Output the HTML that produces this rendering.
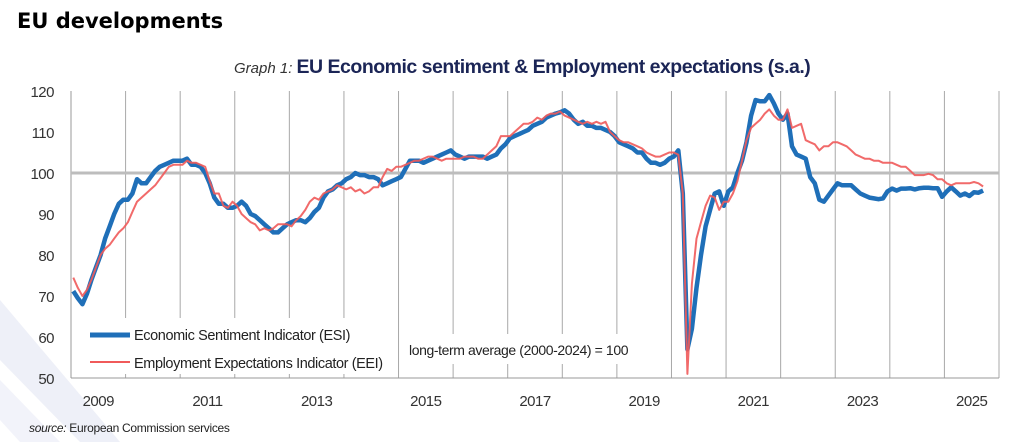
<!DOCTYPE html>
<html><head><meta charset="utf-8">
<style>
body{margin:0;background:#fff;}
#wrap{position:relative;width:1029px;height:442px;overflow:hidden;background:#fff;font-family:"Liberation Sans",sans-serif;}
</style></head>
<body>
<div id="wrap">
<svg id="chart" width="1029" height="442" xmlns="http://www.w3.org/2000/svg">
  <g>
    <polygon points="0,300 0,360 80,442 120,442" fill="#eef0f8"/>
    <polygon points="0,380 0,420 20,442 60,442" fill="#f2f3fa"/>
  </g>
  <text x="17" y="28" font-family="DejaVu Sans, sans-serif" font-weight="bold" font-size="21" fill="#000">EU developments</text>
  <text x="234" y="73" font-family="Liberation Sans, sans-serif"><tspan font-style="italic" font-size="15" fill="#333">Graph 1: </tspan><tspan font-weight="bold" font-size="19.5" fill="#1b2556" letter-spacing="-0.5">EU Economic sentiment &amp; Employment expectations (s.a.)</tspan></text>
  <g id="grid"></g>
  <g id="yticks"></g>
  <g id="xticks"></g>
  <g id="series"></g>
  <g id="legend">
    <rect x="86" y="318" width="300" height="56" fill="#fff"/>
    <line x1="90" y1="335" x2="130" y2="335" stroke="#1f6fb8" stroke-width="5"/>
    <text x="134" y="340" font-size="14.5" fill="#222" letter-spacing="-0.4">Economic Sentiment Indicator (ESI)</text>
    <line x1="90" y1="362" x2="130" y2="362" stroke="#f05a5a" stroke-width="2"/>
    <text x="134" y="368" font-size="14.5" fill="#222" letter-spacing="-0.4">Employment Expectations Indicator (EEI)</text>
  </g>
  <rect x="404" y="334" width="236" height="30" fill="#fff"/>
  <text x="409" y="355" font-size="14" fill="#222" letter-spacing="-0.4">long-term average (2000-2024) = 100</text>
  <text x="29" y="432" font-size="12" fill="#222" letter-spacing="-0.3"><tspan font-style="italic">source:</tspan> European Commission services</text>
</svg>
</div>
<script>
const yTicks=[50,60,70,80,90,100,110,120];
const xLabels=["2009","2011","2013","2015","2017","2019","2021","2023","2025"];
const startYear=2009;
const esi=[71.2,69.5,68,70.5,74,77,80,84,87,90,92.5,93.5,
93.5,95,98.5,97.5,97.5,99,100.5,101.5,102,102.5,103,103,
103,103.5,102,102,101.5,100,97.5,94,92.5,92.5,91.5,91.5,
92,93,92,90,89.5,88.5,87.5,86.5,85.5,85.5,86.5,87.5,
88,88.5,88.5,88,89,90.5,91.5,94,95.5,96,97,97.5,
98.5,99,100,99.5,99.5,99,99,98.5,97,97.5,98,98.5,
99,101,103,103,103,102.5,103,103.5,104,104.5,105,105.5,
104.5,104,103.5,104,104,104,104,103.5,104,104.5,106,107,
108.5,109,109.5,110,110.5,111.5,112,112.5,113.5,114,114.5,114.8,
115.3,114.5,113,112,112.5,111.5,111.5,111,111,110.5,110,109,
107.5,107,106.5,106,105,105,103.5,102.5,102.5,102,102.5,103.5,
104,105.5,95,57,62,72,80,87,91,95,95.5,92,
95.5,96.5,100,103,107.5,114,117.8,117.5,117.5,119,117,114.5,
113,114.5,106.5,104.5,104,103.5,99,97.5,93.5,93,94.5,96,
97.5,97,97,97,96,95,94.5,94,93.8,93.6,93.8,95.5,
96.2,95.7,96.2,96.2,96.3,96,96.3,96.4,96.4,96.3,96.3,94.2,
95.5,96.5,95.5,94.5,95,94.4,95.3,95.2,95.7];
const eei=[74.5,72,70,71.5,74,77,80,81.5,82.5,84,85.5,86.5,
88,90.5,93,94,95,96,97,98.5,100,101.5,102,102,
102,103,102.5,102.5,102,101.5,98,95,95,92,91.5,93,
92,90,89,88,87.5,86,86.5,86,86.5,87.5,87.5,87.5,
87,88.5,89.5,91,93,94,93.5,95,95.5,96,97,96.5,
96,96.5,95.5,96,95,95.5,96.5,96.5,99,101,100.5,101.5,
101.5,102,102.5,103,103,103.5,104,104,103.5,103,103.5,103.5,
103.5,103.5,104,104,104,103.5,103.5,104.5,105.5,106.5,109,109,
109,110,111,112,112,112.5,113.5,113,114,114.5,114.5,115,
114,113.5,113,112.5,112,112.5,112,112.5,112,112.5,110,109,
108,107.5,107.5,107,106.5,106,105,104.5,104,104,104.5,105,
105,104.5,95,51,73,84,88,92,94.5,94,91,93,
93,95,98,103,108,111,112,113,114.5,115.5,114,113,
113,115.5,111,111.5,112,108,107.5,107,105.5,106.5,106.5,107.5,
107.5,107,106.5,105.5,104.5,104,103.5,103.5,103,103,102.5,102.5,
102.5,102,101.5,101.5,100.5,99.5,99.5,99.5,99.8,99.5,98.5,98.5,
97.5,97,97.5,97.5,97.5,97.5,97.8,97.5,96.7];

const NS="http://www.w3.org/2000/svg";
const L=71,R=999,T=91,B=378,yMin=50,yMax=120,years=17;
const xScale=t=>L+t*(R-L)/years;
const yScale=v=>B-(v-yMin)*(B-T)/(yMax-yMin);
function mk(tag,attrs,parent){const e=document.createElementNS(NS,tag);for(const k in attrs)e.setAttribute(k,attrs[k]);parent.appendChild(e);return e;}

const grid=document.getElementById('grid');
for(let i=1;i<=years;i++){
  const x=xScale(i);
  const gl=mk('line',{x1:x,x2:x,y1:T,y2:B,stroke:'#a8a8a8','stroke-width':1},grid);
  
  
}
const ax=mk('line',{x1:L,x2:L,y1:T,y2:B,stroke:'#999','stroke-width':1},grid);


const bx=mk('line',{x1:L,x2:R,y1:B,y2:B,stroke:'#999','stroke-width':1},grid);


const ref=mk('line',{x1:L,x2:R,y1:yScale(100),y2:yScale(100),stroke:'#bdbdbd','stroke-width':3},grid);



const yt=document.getElementById('yticks');
yTicks.forEach(v=>{
  const t=mk('text',{x:54,y:yScale(v)+6,'text-anchor':'end','font-size':15,fill:'#333','letter-spacing':'-0.5'},yt);
  t.textContent=v;
  
  
});
const xt=document.getElementById('xticks');
xLabels.forEach(s=>{
  const yr=parseInt(s,10)-startYear;
  const t=mk('text',{x:xScale(yr+0.5),y:406,'text-anchor':'middle','font-size':15,fill:'#333','letter-spacing':'-0.5'},xt);
  t.textContent=s;
  
  
});

function path(arr){return arr.map((v,i)=>(i?'L':'M')+xScale(i/12+1/24).toFixed(1)+','+yScale(v).toFixed(1)).join(' ');}
const sg=document.getElementById('series');
const pe=mk('path',{d:path(esi),fill:'none',stroke:'#1f6fb8','stroke-width':4.5,'stroke-linejoin':'round'},sg);


const pr=mk('path',{d:path(eei),fill:'none',stroke:'#f05a5a','stroke-width':2,'stroke-linejoin':'round','stroke-opacity':0.9},sg);


</script>
</body></html>
